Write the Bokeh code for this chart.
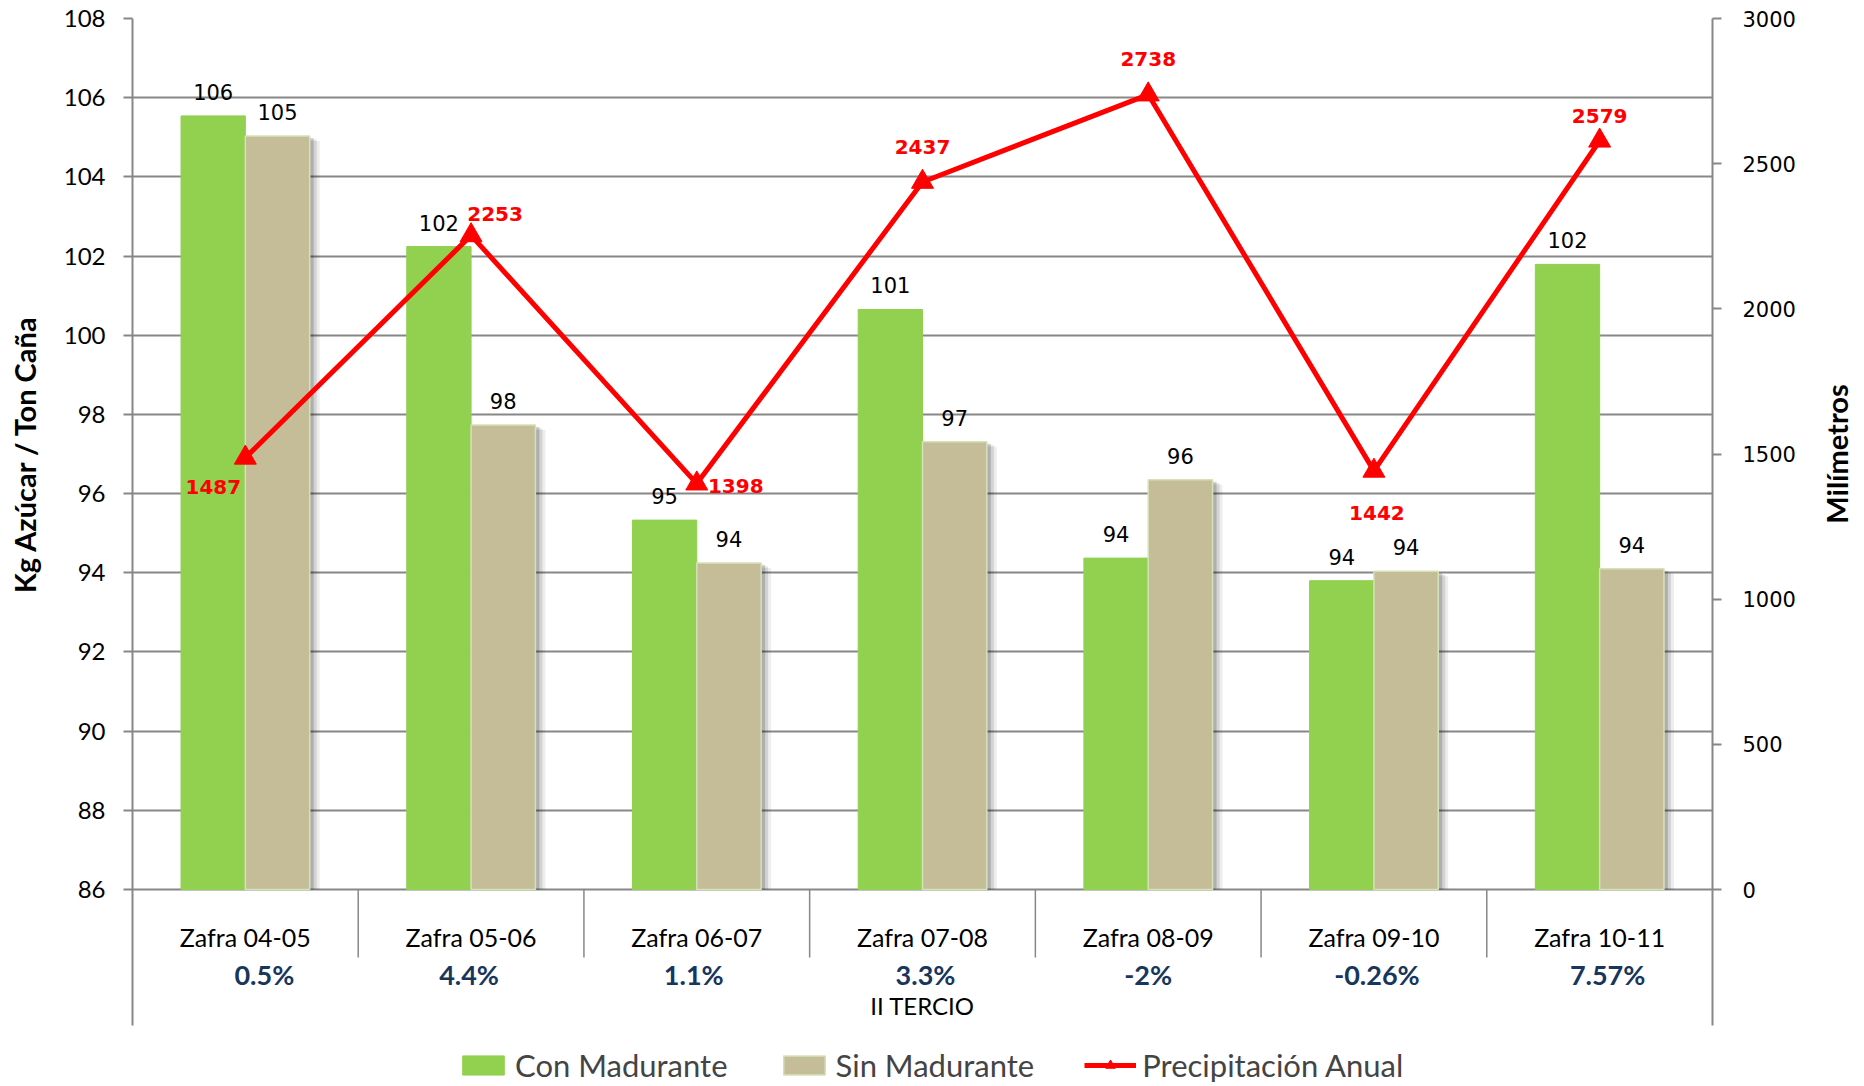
import math
from bokeh.plotting import figure
from bokeh.models import (Range1d, LinearAxis, FixedTicker, Grid, ColumnDataSource,
                          Legend, LegendItem)
from bokeh.embed import file_html
from bokeh.resources import INLINE
from bokeh.core.properties import value

# ---------------- data ----------------
categories = ["Zafra 04-05", "Zafra 05-06", "Zafra 06-07", "Zafra 07-08",
              "Zafra 08-09", "Zafra 09-10", "Zafra 10-11"]
pct_labels = ["0.5%", "4.4%", "1.1%", "3.3%", "-2%", "-0.26%", "7.57%"]
con_madurante = [105.54, 102.24, 95.33, 100.65, 94.37, 93.80, 101.79]
sin_madurante = [105.03, 97.73, 94.25, 97.31, 96.35, 94.04, 94.10]
precipitacion = [1487, 2253, 1398, 2437, 2738, 1442, 2579]
left_ticks = list(range(86, 109, 2))
right_ticks = list(range(0, 3001, 500))
subgroup_label = "II TERCIO"
series_names = ["Con Madurante", "Sin Madurante", "Precipitación Anual"]
y_title = "Kg Azúcar / Ton Caña"
y2_title = "Milímetros"

# ---------------- layout (page pixels) ----------------
W, H = 1860, 1084
FL, FR, FT = 132, 1712, 18     # frame left / right / top
P0 = 889                       # pixel row of 86 and 0
YMIN, YMAX = 86, 108
RMAX = 3000

def ly(px):
    return YMIN + (P0 - px) * (YMAX - YMIN) / (P0 - FT)

def ry(px):
    return (P0 - px) * RMAX / (P0 - FT)

n = len(categories)
centers = [i + 0.5 for i in range(n)]
BW = 0.285
CAT_PX = (FR - FL) / n

def lx(px):
    return (px - FL) / CAT_PX

GREEN = "#92D050"
TAN = "#C4BD97"
GRID = "#878787"
RED = "#FF0000"
NAVY = "#17365D"

p = figure(width=W, height=H, x_range=Range1d(0, n), y_range=Range1d(ly(H), YMAX),
           x_axis_type=None, y_axis_type=None,
           min_border_left=FL, min_border_right=W - FR, min_border_top=FT,
           min_border_bottom=0, output_backend="svg", toolbar_location=None,
           outline_line_color=None, background_fill_color="white")
p.extra_y_ranges = {"precip": Range1d(ry(H), RMAX)}

p.add_layout(Grid(dimension=1, ticker=FixedTicker(ticks=left_ticks),
                  grid_line_color=GRID, grid_line_width=2))

la = LinearAxis(ticker=FixedTicker(ticks=left_ticks), bounds=(ly(1025), YMAX))
ra = LinearAxis(y_range_name="precip", ticker=FixedTicker(ticks=right_ticks),
                bounds=(ry(1025), RMAX))
for ax in (la, ra):
    ax.axis_line_color = GRID
    ax.axis_line_width = 2
    ax.major_tick_line_color = GRID
    ax.major_tick_line_width = 2
    ax.major_tick_out = 9
    ax.major_tick_in = 0
    ax.minor_tick_line_color = None
    ax.major_label_text_color = "black"
la.major_label_text_font = "Lato"
la.major_label_text_font_size = "24px"
la.major_label_standoff = 18
ra.major_label_text_font = "DejaVu Sans"
ra.major_label_text_font_size = "21px"
ra.major_label_standoff = 21
p.add_layout(la, "left")
p.add_layout(ra, "right")

# axis titles (drawn unclipped, centred on the value range)
ymid = (YMIN + YMAX) / 2
p.text(x=[lx(24)], y=[ymid], text=[y_title], angle=math.pi / 2,
       text_align="center", text_baseline="middle", text_font=value("Lato"),
       text_font_style="bold", text_font_size="29px", text_color="black",
       level="overlay")
p.text(x=[lx(1836)], y=[ymid], text=[y2_title], angle=math.pi / 2,
       text_align="center", text_baseline="middle", text_font=value("Lato"),
       text_font_style="bold", text_font_size="29px", text_color="black",
       level="overlay")

src = ColumnDataSource(dict(
    x=centers,
    xg=[c - BW / 2 for c in centers],
    xt=[c + BW / 2 for c in centers],
    con=con_madurante,
    sin=sin_madurante,
    con_lbl=[str(round(v)) for v in con_madurante],
    sin_lbl=[str(round(v)) for v in sin_madurante],
    pre=precipitacion,
    pre_lbl=[str(v) for v in precipitacion],
    cat=categories,
    pct=pct_labels,
))

# soft shadow behind tan bars
for k, a in ((10, 0.07), (7, 0.11), (4, 0.17)):
    dx = k / CAT_PX
    dy = (k * 0.5) * (YMAX - YMIN) / (P0 - FT)
    p.vbar(x=[c + BW / 2 + dx for c in centers], width=BW,
           top=[v - dy for v in sin_madurante], bottom=YMIN,
           fill_color="black", fill_alpha=a, line_color=None)

g_r = p.vbar(x="xg", width=BW, top="con", bottom=YMIN, source=src,
             fill_color=GREEN, line_color=GREEN, line_width=1)
t_r = p.vbar(x="xt", width=BW, top="sin", bottom=YMIN, source=src,
             fill_color=TAN, line_color="#D4E2B8", line_width=1.5)

# bar value labels
for xcol, ycol, lcol in (("xg", "con", "con_lbl"), ("xt", "sin", "sin_lbl")):
    p.text(x=xcol, y=ycol, text=lcol, source=src, text_align="center",
           text_baseline="middle", y_offset=-24,
           text_font=value("DejaVu Sans"), text_font_size="21px",
           text_color="black")

# precipitation line
l_r = p.line(x="x", y="pre", source=src, y_range_name="precip",
             line_color=RED, line_width=5)
m_r = p.scatter(x="x", y="pre", source=src, y_range_name="precip",
                marker="triangle", size=22, fill_color=RED, line_color=RED)

src.data["pdx"] = [-32, 24, 39, 0, 0, 3, 0]
src.data["pdy"] = [29, -21, 2, -35, -36, 42, -25]
p.text(x="x", y="pre", text="pre_lbl", source=src, y_range_name="precip",
       x_offset="pdx", y_offset="pdy", text_align="center", text_baseline="middle",
       text_font=value("DejaVu Sans"), text_font_style="bold",
       text_font_size="20px", text_color=RED)

# category area below the bars
p.segment(x0=list(range(1, n)), y0=YMIN, x1=list(range(1, n)), y1=ly(957),
          line_color=GRID, line_width=1.5)

p.text(x="x", y=ly(936), text="cat", source=src, text_align="center",
       text_baseline="middle", text_font=value("Lato"), text_font_size="25px",
       text_color="black")
src.data["pctdx"] = [19, -2, -3, 3, 0, 3, 8]
p.text(x="x", y=ly(974), text="pct", source=src, x_offset="pctdx",
       text_align="center", text_baseline="middle", text_font=value("Lato"),
       text_font_style="bold", text_font_size="27px", text_color=NAVY)
p.text(x=[n / 2], y=[ly(1005)], text=[subgroup_label], text_align="center",
       text_baseline="middle", text_font=value("Lato"), text_font_size="24px",
       text_color="black")

legend = Legend(items=[LegendItem(label=series_names[0], renderers=[g_r]),
                       LegendItem(label=series_names[1], renderers=[t_r]),
                       LegendItem(label=series_names[2], renderers=[l_r, m_r])],
                location=(325, 0), orientation="horizontal", spacing=50,
                padding=0, margin=0, glyph_width=52, glyph_height=24,
                label_standoff=6, label_text_font="Lato",
                label_text_font_size="31px", border_line_alpha=0,
                background_fill_alpha=0)
p.add_layout(legend)

open("out.html", "w").write(file_html(p, INLINE))
